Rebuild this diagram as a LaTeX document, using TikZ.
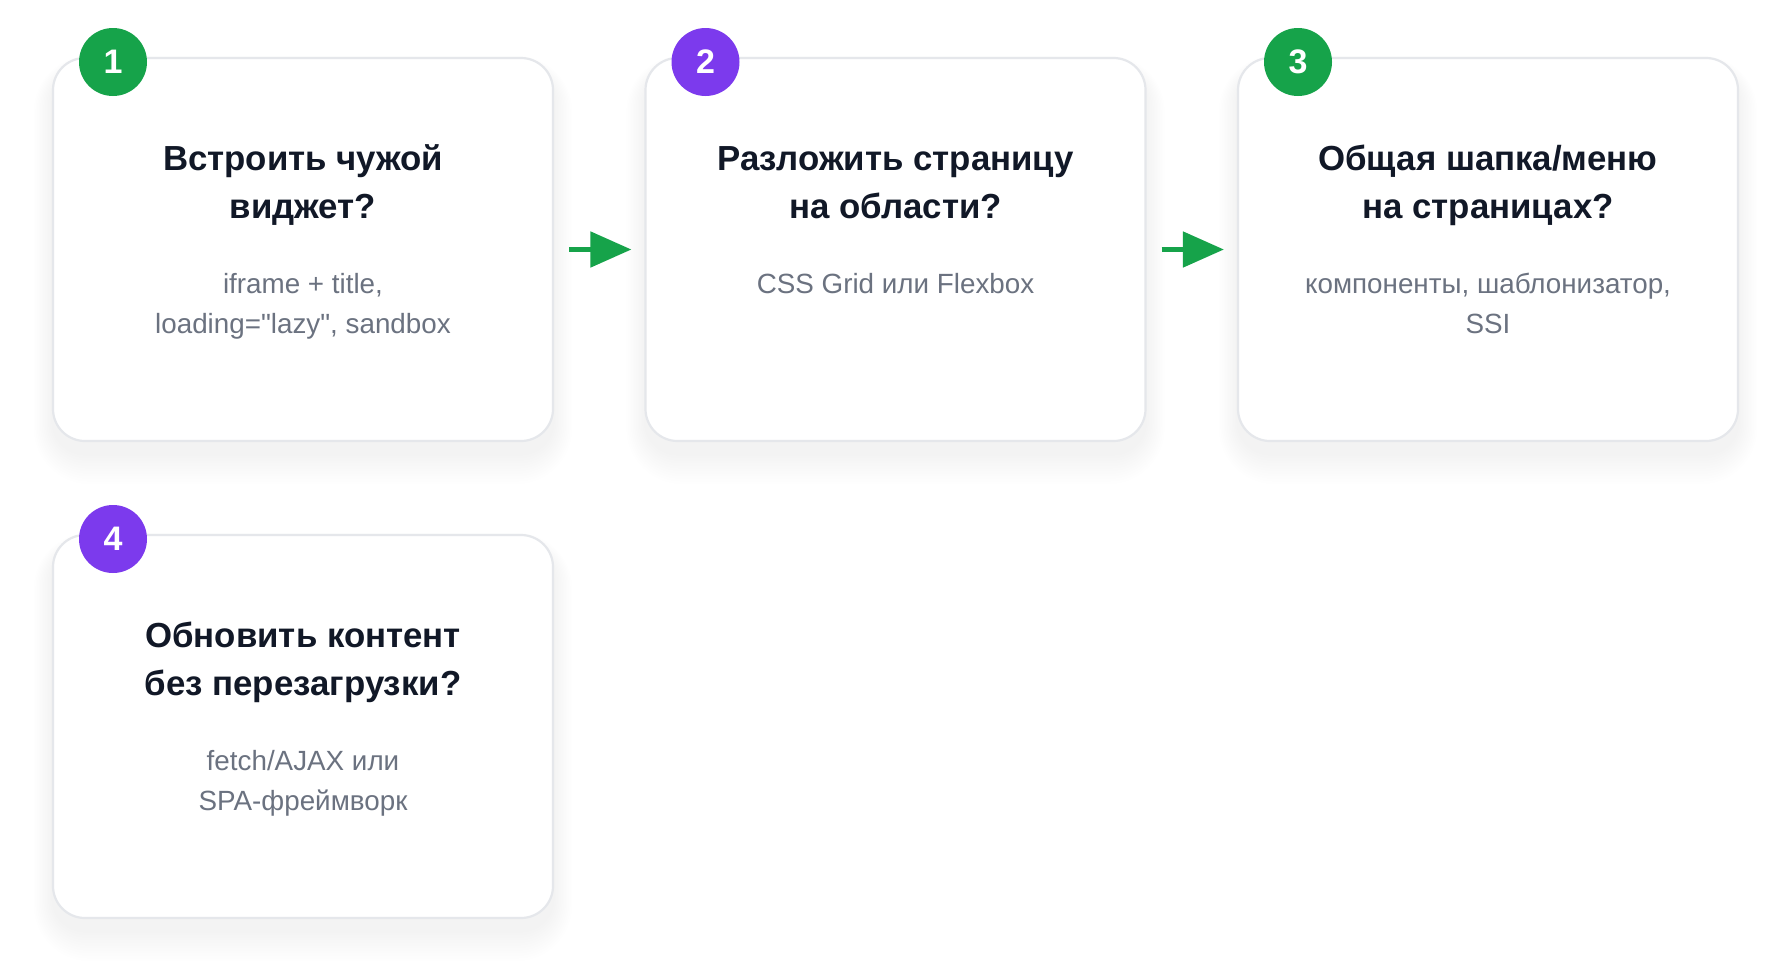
\documentclass[tikz,border=0pt]{standalone}
\usepackage{fontspec}
\setmainfont{Liberation Sans}
\newfontfamily\plainsans{Liberation Sans}
\usetikzlibrary{arrows.meta,calc}
\definecolor{cardborder}{HTML}{E5E7EB}
\definecolor{titlecol}{HTML}{111827}
\definecolor{subcol}{HTML}{6B7280}
\definecolor{badgegreen}{HTML}{16A34A}
\definecolor{badgepurple}{HTML}{7C3AED}
\tikzset{
  card/.style={draw=cardborder, line width=2.2pt, fill=white, rounded corners=32pt,
    minimum width=500pt, minimum height=383pt, inner sep=0pt},
  badge/.style={circle, minimum size=68pt, inner sep=0pt, text=white,
    font=\bfseries\fontsize{34}{34}\selectfont},
  titleline/.style={anchor=base, text=titlecol, font=\bfseries\fontsize{34.8}{48}\selectfont, inner sep=0pt},
  subline/.style={anchor=base, text=subcol, font=\plainsans\fontsize{27.8}{40}\selectfont, inner sep=0pt},
  flow/.style={draw=badgegreen, line width=5pt, -{Triangle[length=41pt,width=35pt]},
    shorten <=15pt, shorten >=13pt},
  shadowlayer/.style={fill=black, fill opacity=0.005},
}
\newcommand{\cardshadow}[2]{%
  \foreach \i in {1,...,12}{
    \fill[shadowlayer, rounded corners={32pt+2*\i pt}]
      ($(#1,#2)+(-250-\i*1.6,-191.5-\i*1.2+12)$) rectangle ($(#1,#2)+(250+\i*1.6,191.5+\i*2.6+12)$);
  }%
}
\begin{document}
\begin{tikzpicture}[x=1pt,y=-1pt]
\useasboundingbox[fill=white] (0,0) rectangle (1790,977);

% shadows
\cardshadow{303}{249.5}
\cardshadow{895.5}{249.5}
\cardshadow{1488}{249.5}
\cardshadow{303}{726.5}

% cards
\node[card] (c1) at (303,249.5) {};
\node[card] (c2) at (895.5,249.5) {};
\node[card] (c3) at (1488,249.5) {};
\node[card] (c4) at (303,726.5) {};

% badges
\node[badge, fill=badgegreen] (b1) at (113,62) {1};
\node[badge, fill=badgepurple] (b2) at (705.5,62) {2};
\node[badge, fill=badgegreen] (b3) at (1298,62) {3};
\node[badge, fill=badgepurple] (b4) at (113,539) {4};

% card 1 texts
\node[titleline] (t1a) at (303,170) {Встроить чужой};
\node[titleline] (t1b) at (303,218) {виджет?};
\node[subline] (s1a) at (303,293) {iframe + title,};
\node[subline] (s1b) at (303,333) {loading="lazy", sandbox};

% card 2 texts
\node[titleline] (t2a) at (895.5,170) {Разложить страницу};
\node[titleline] (t2b) at (895.5,218) {на области?};
\node[subline] (s2a) at (895.5,293) {CSS Grid или Flexbox};

% card 3 texts
\node[titleline] (t3a) at (1488,170) {Общая шапка/меню};
\node[titleline] (t3b) at (1488,218) {на страницах?};
\node[subline] (s3a) at (1488,293) {компоненты, шаблонизатор,};
\node[subline] (s3b) at (1488,333) {SSI};

% card 4 texts
\node[titleline] (t4a) at (303,647) {Обновить контент};
\node[titleline] (t4b) at (303,695) {без перезагрузки?};
\node[subline] (s4a) at (303,770) {fetch/AJAX или};
\node[subline] (s4b) at (303,810) {SPA-фреймворк};

% arrows
\draw[flow] (c1.east) -- (c2.west);
\draw[flow] (c2.east) -- (c3.west);
\end{tikzpicture}
\end{document}
